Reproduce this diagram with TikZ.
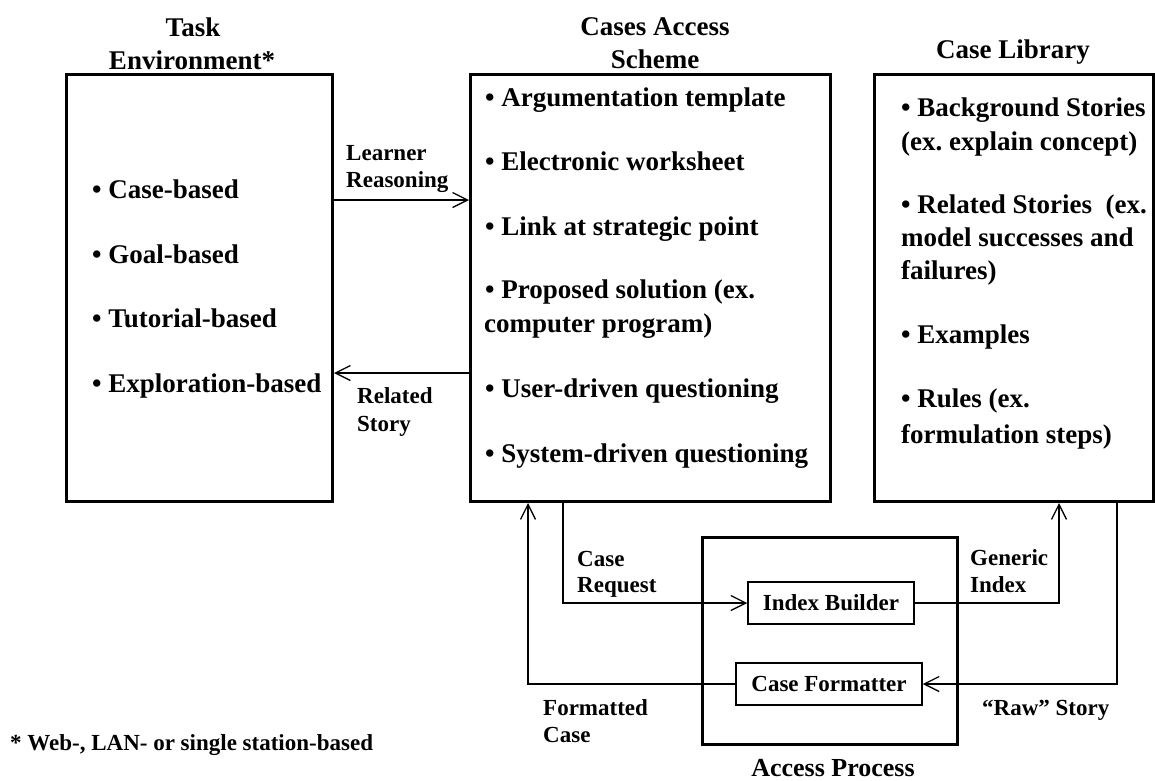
\documentclass[tikz,border=0pt]{standalone}
\usepackage{fontspec}
\setmainfont{Liberation Serif}
\usetikzlibrary{arrows.meta}
\frenchspacing
\begin{document}
\begin{tikzpicture}[x=1pt,y=-1pt,
 bigbox/.style={draw, line width=3pt, inner sep=0pt, anchor=north west},
 smallbox/.style={draw, line width=1.5pt, inner sep=0pt, minimum height=42pt, font=\fontsize{23}{27}\selectfont\bfseries},
 item/.style={inner sep=0pt, anchor=base west, font=\fontsize{27}{32}\selectfont\bfseries},
 ttl/.style={inner sep=0pt, anchor=base, font=\fontsize{27}{32}\selectfont\bfseries},
 lbl/.style={inner sep=0pt, anchor=base west, font=\fontsize{23}{27}\selectfont\bfseries},
 arr/.style={line width=1.3pt, -{Straight Barb[length=15pt,width=15pt]}},
 conn/.style={line width=1.3pt}]
\useasboundingbox (0,0) rectangle (1155,780);

% main boxes
\node[bigbox, minimum width=266pt, minimum height=427pt] (te) at (65,73) {};
\node[bigbox, minimum width=360pt, minimum height=427pt] (cas) at (469,73) {};
\node[bigbox, minimum width=279pt, minimum height=427pt] (cl) at (873,73) {};
\node[bigbox, minimum width=255pt, minimum height=207pt] (ap) at (701,536) {};

% small boxes
\node[smallbox, minimum width=166pt] (ib) at (831,603) {Index Builder};
\node[smallbox, minimum width=186pt] (cf) at (829,684) {Case Formatter};

% titles
\node[ttl] (teT1) at (193,36) {Task};
\node[ttl] (teT2) at (192,69) {Environment*};
\node[ttl] (casT1) at (655,35) {Cases Access};
\node[ttl] (casT2) at (655,68) {Scheme};
\node[ttl] (clT) at (1013,58) {Case Library};
\node[ttl, font=\fontsize{26}{30}\selectfont\bfseries] (apT) at (833,776) {Access Process};

% task environment items
\node[item] (te1) at (92,198) {• Case-based};
\node[item] (te2) at (92,263) {• Goal-based};
\node[item] (te3) at (92,327) {• Tutorial-based};
\node[item] (te4) at (92,392) {• Exploration-based};

% cases access scheme items
\node[item] (cas1) at (485,106) {• Argumentation template};
\node[item] (cas2) at (485,170) {• Electronic worksheet};
\node[item] (cas3) at (485,235) {• Link at strategic point};
\node[item] (cas4a) at (485,298) {• Proposed solution (ex.};
\node[item] (cas4b) at (484,332) {computer program)};
\node[item] (cas5) at (485,397) {• User-driven questioning};
\node[item] (cas6) at (485,462) {• System-driven questioning};

% case library items
\node[item] (cl1a) at (901,116) {• Background Stories};
\node[item] (cl1b) at (901,150) {(ex. explain concept)};
\node[item] (cl2a) at (901,213) {• Related Stories\ \ (ex.};
\node[item] (cl2b) at (901,246) {model successes and};
\node[item] (cl2c) at (901,279) {failures)};
\node[item] (cl3) at (901,343) {• Examples};
\node[item] (cl4a) at (901,407) {• Rules (ex.};
\node[item] (cl4b) at (901,443) {formulation steps)};

% connector labels
\node[lbl] (lr1) at (346,160) {Learner};
\node[lbl] (lr2) at (346,187) {Reasoning};
\node[lbl] (rs1) at (357,403) {Related};
\node[lbl] (rs2) at (357,431) {Story};
\node[lbl] (cr1) at (577,566) {Case};
\node[lbl] (cr2) at (577,592) {Request};
\node[lbl] (fc1) at (543,715) {Formatted};
\node[lbl] (fc2) at (543,742) {Case};
\node[lbl] (gi1) at (970,565) {Generic};
\node[lbl] (gi2) at (970,592) {Index};
\node[lbl] (raw) at (982,715) {“Raw” Story};

% footnote
\node[lbl] (foot) at (10,750) {* Web-, LAN- or single station-based};

% helper coordinates
\coordinate (lrY) at (0,200);
\coordinate (rsY) at (0,373);
\coordinate (crX) at (563,0);
\coordinate (fcX) at (528,0);
\coordinate (giX) at (1059,0);
\coordinate (rwX) at (1117,0);

% connectors
\draw[arr] (te.east |- lrY) -- (cas.west |- lrY);
\draw[arr] (cas.west |- rsY) -- (te.east |- rsY);
\draw[arr] (cas.south -| crX) |- (ib.west);
\draw[arr] (cf.west) -| (cas.south -| fcX);
\draw[arr] (ib.east) -| (cl.south -| giX);
\draw[arr] (cl.south -| rwX) |- (cf.east);
\end{tikzpicture}
\end{document}
